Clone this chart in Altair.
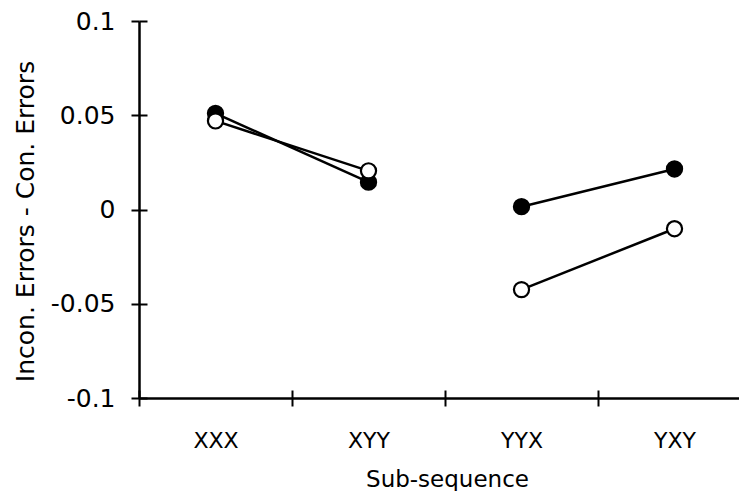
import altair as alt
import pandas as pd

categories = ["XXX", "XYY", "YYX", "YXY"]
pairs = ["A", "A", "B", "B"]
filled_values = [0.051, 0.0145, 0.0015, 0.0215]
open_values = [0.047, 0.0205, -0.0425, -0.0102]
y_ticks = [-0.1, -0.05, 0, 0.05, 0.1]

rows = []
for s, vals in (("filled", filled_values), ("open", open_values)):
    for c, p, v in zip(categories, pairs, vals):
        rows.append({"cat": c, "pair": p, "series": s, "value": v})
df = pd.DataFrame(rows)

FONT = "DejaVu Sans"
W, H = 600, 377

xscale = alt.Scale(domain=categories, range=[0, 612], paddingInner=0, paddingOuter=0)
yscale = alt.Scale(domain=[-0.1, 0.1], nice=False, zero=False)

x_main = alt.X("cat:N", sort=categories, scale=xscale, title="Sub-sequence",
               axis=alt.Axis(orient="bottom", tickBand="extent", tickSize=8,
                             labelPadding=41, labelBaseline="alphabetic",
                             labelFontSize=22, labelFont=FONT,
                             labelColor="black", labelAngle=0,
                             titleFontSize=23, titleFont=FONT, titleFontWeight="normal",
                             titleColor="black", titleY=88, titleX=308,
                             titleBaseline="alphabetic", grid=False))
y_main = alt.Y("value:Q", scale=yscale, title="Incon. Errors - Con. Errors",
               axis=alt.Axis(orient="left", values=y_ticks, tickSize=8,
                             labelExpr="'' + datum.value", labelPadding=16,
                             labelFontSize=25, labelFont=FONT, labelColor="black",
                             titleFontSize=25, titleFont=FONT, titleFontWeight="normal",
                             titleColor="black", titleX=-106, titleY=200,
                             titleBaseline="alphabetic", grid=False))

lines = alt.Chart(df).mark_line(color="black", strokeWidth=2.5).encode(
    x=x_main, y=y_main, detail=["series:N", "pair:N"]
)
points = alt.Chart(df).mark_point(filled=False, size=230, strokeWidth=2.2, opacity=1,
                                  stroke="black", shape="circle").encode(
    x=alt.X("cat:N", sort=categories, scale=xscale, axis=None),
    y=alt.Y("value:Q", scale=yscale, axis=None),
    fill=alt.Fill("series:N", scale=alt.Scale(domain=["filled", "open"], range=["black", "white"]), legend=None),
    order=alt.Order("series:N"),
)

# inner halves of the crossing ticks
inner = alt.Chart(df).mark_point(opacity=0).encode(
    x=alt.X("cat:N", sort=categories, scale=xscale, title=None,
            axis=alt.Axis(orient="top", offset=-H, tickBand="extent", tickSize=8,
                          domain=False, labels=False, grid=False)),
    y=alt.Y("value:Q", scale=yscale, title=None,
            axis=alt.Axis(orient="right", offset=-W, values=y_ticks, tickSize=8,
                          domain=False, labels=False, grid=False)),
)

chart = alt.layer(lines, points, inner).resolve_axis(x="independent", y="independent").properties(
    width=W, height=H,
    autosize=alt.AutoSizeParams(type="none"),
    padding={"left": 131, "top": 13, "right": 0, "bottom": 93},
).configure_view(stroke=None).configure_axis(
    grid=False, domainWidth=2.5, tickWidth=2, domainColor="black", tickColor="black"
)

chart.save("out.html", embed_options={"renderer": "svg", "actions": False})
